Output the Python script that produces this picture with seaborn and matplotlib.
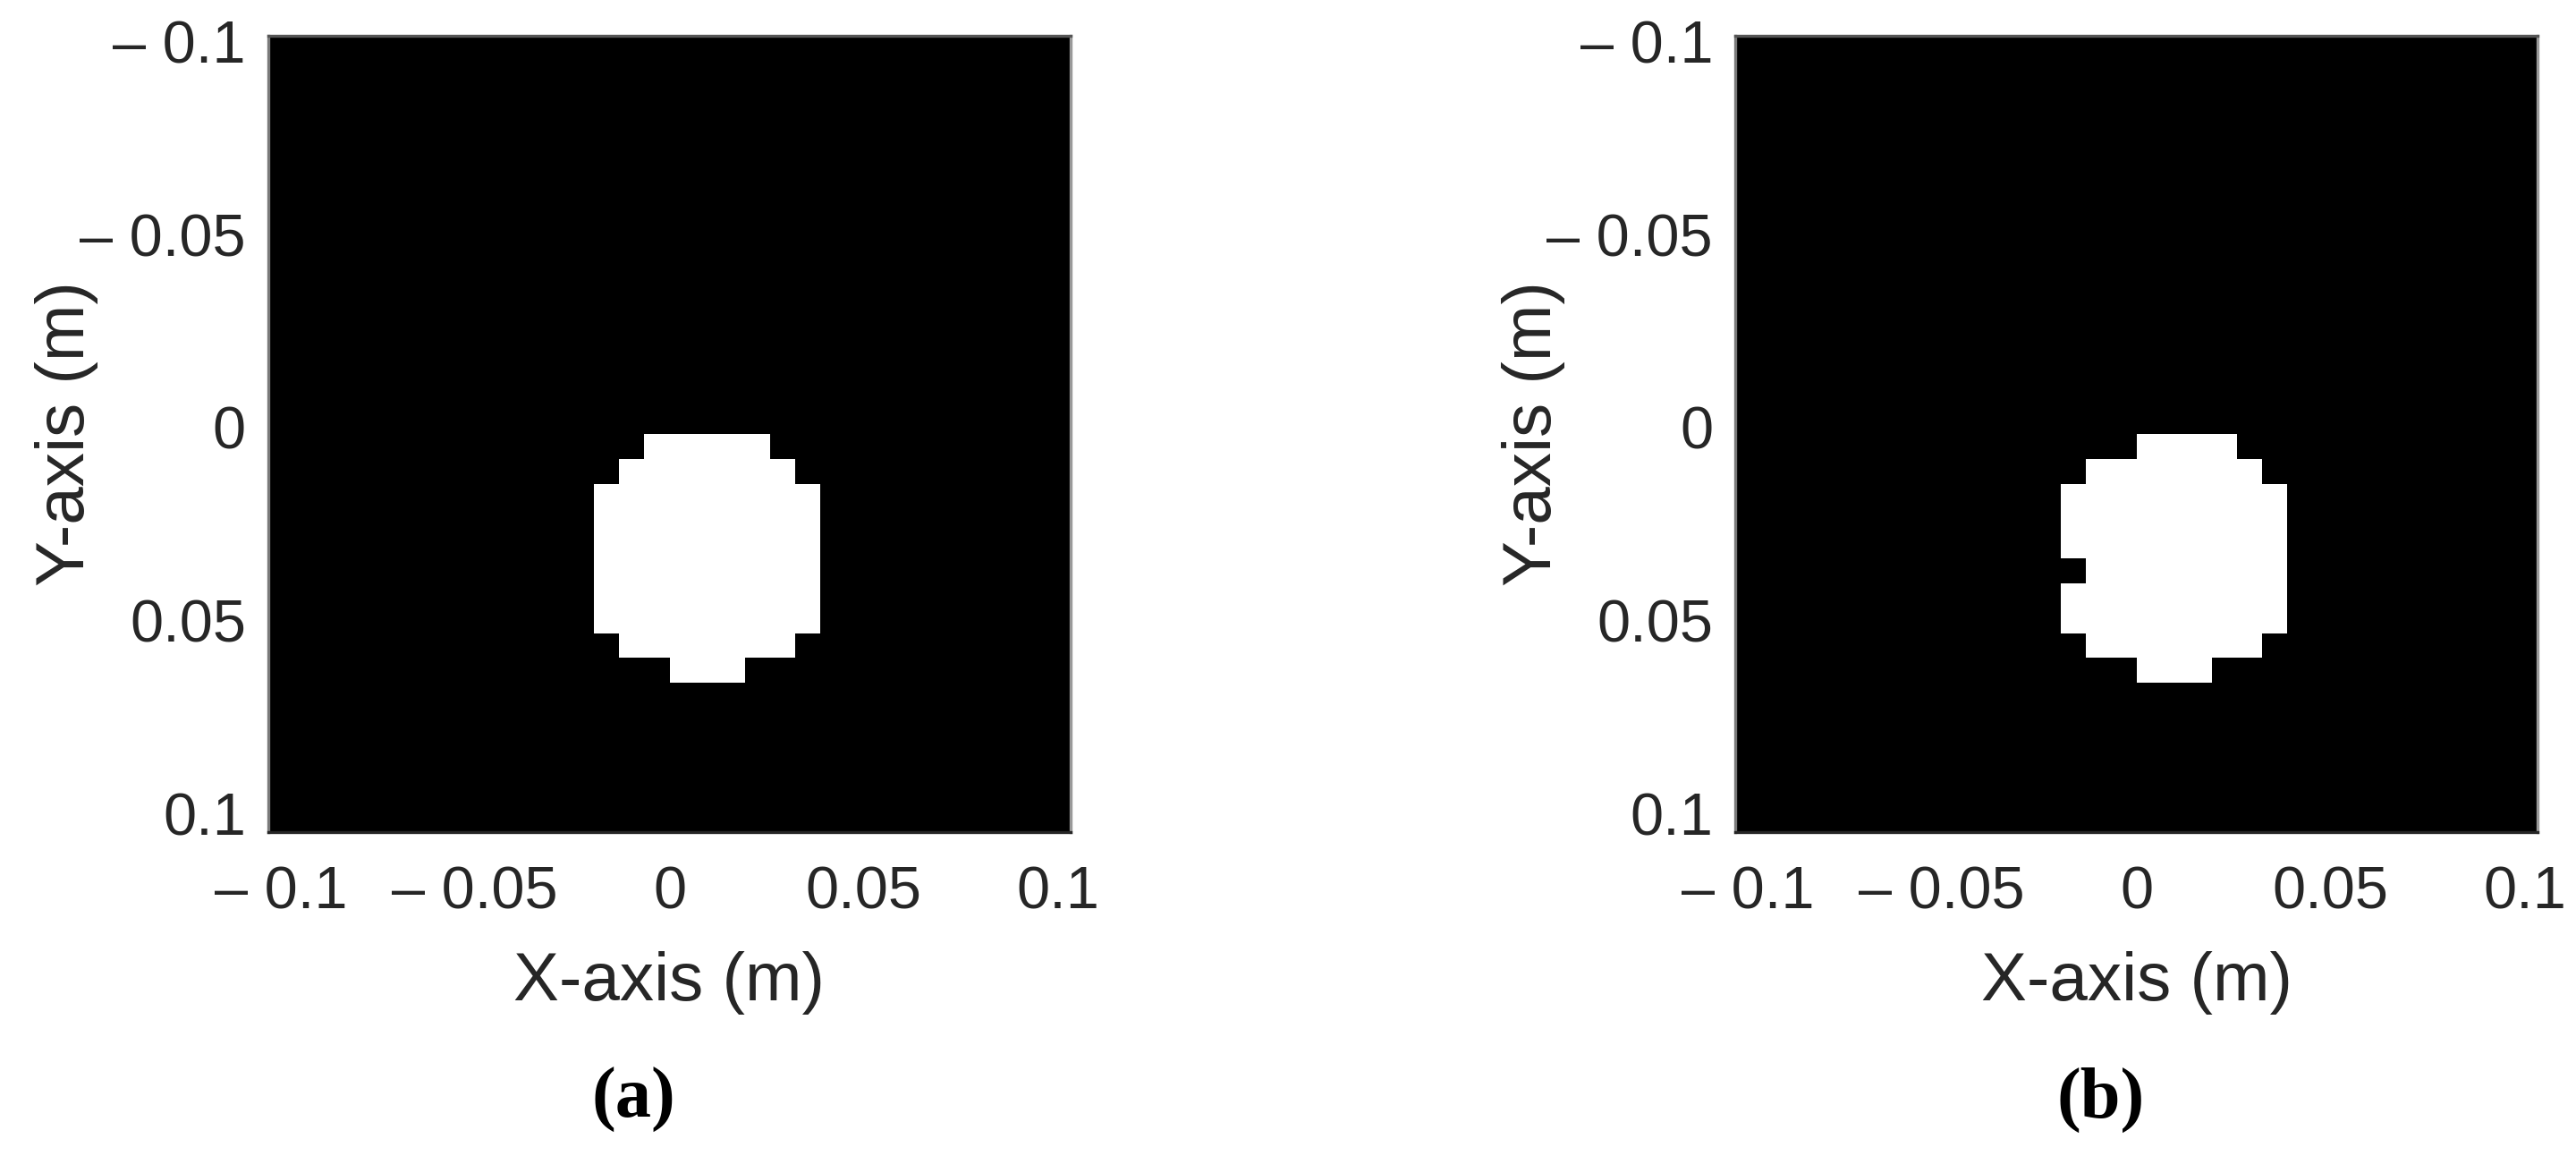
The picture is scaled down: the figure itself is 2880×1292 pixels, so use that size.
import numpy as np
import matplotlib
matplotlib.use("Agg")
import matplotlib.pyplot as plt
from matplotlib.colors import ListedColormap
import seaborn as sns

# ---------------- data ----------------
n_pixels = 32                      # image is 32 x 32 pixels
axis_min, axis_max = -0.1, 0.1     # pixel-centre coordinates (m)
tick_values = [-0.1, -0.05, 0.0, 0.05, 0.1]
x_tick_labels = ["\u2013 0.1", "\u2013 0.05", "0", "0.05", "0.1"]
y_tick_labels = ["\u2013 0.1", "\u2013 0.05", "0", "0.05", "0.1"]

# white region of image (a): row index, first column, last column
rows_a = [16, 17, 18, 19, 20, 21, 22, 23, 24, 25]
col_first_a = [15, 14, 13, 13, 13, 13, 13, 13, 14, 16]
col_last_a = [19, 20, 21, 21, 21, 21, 21, 21, 20, 18]

# white region of image (b)
rows_b = [16, 17, 18, 19, 20, 21, 22, 23, 24, 25]
col_first_b = [16, 14, 13, 13, 13, 14, 13, 13, 14, 16]
col_last_b = [19, 20, 21, 21, 21, 21, 21, 21, 20, 18]

panel_titles = ["(a)", "(b)"]
x_label = "X-axis (m)"
y_label = "Y-axis (m)"


def build_image(rows, firsts, lasts):
    img = np.zeros((n_pixels, n_pixels))
    for r, c0, c1 in zip(rows, firsts, lasts):
        img[r, c0:c1 + 1] = 1.0
    return img


images = [build_image(rows_a, col_first_a, col_last_a),
          build_image(rows_b, col_first_b, col_last_b)]

# ---------------- style ----------------
sns.set_style("white")
plt.rcParams["font.family"] = ["Liberation Sans", "DejaVu Sans"]

W, H = 2880, 1292
fig = plt.figure(figsize=(W / 100, H / 100), dpi=100)

step = (axis_max - axis_min) / (n_pixels - 1)
tick_pos = [(v - axis_min) / step + 0.5 for v in tick_values]

ax_left_px = [300, 1940]
ax_w_px, ax_top_px, ax_bot_px = 897, 40, 930
text_col = "#262626"

cmap = ListedColormap(["#000000", "#ffffff"])

for k, img in enumerate(images):
    ax = fig.add_axes([ax_left_px[k] / W, 1 - ax_bot_px / H,
                       ax_w_px / W, (ax_bot_px - ax_top_px) / H])
    sns.heatmap(img, ax=ax, cmap=cmap, vmin=0, vmax=1, cbar=False,
                linewidths=0, xticklabels=False, yticklabels=False)
    ax.set_xlim(0, n_pixels)
    ax.set_ylim(n_pixels, 0)
    ax.set_xticks(tick_pos)
    ax.set_xticklabels(x_tick_labels, rotation=0)
    ax.set_yticks(tick_pos)
    ax.set_yticklabels(y_tick_labels, rotation=0, va="center")
    ax.tick_params(axis="both", which="major", direction="in", length=8,
                   width=2.5, color="#1e1e1e", labelsize=48,
                   labelcolor=text_col, top=True, right=True,
                   bottom=True, left=True)
    ax.tick_params(axis="x", pad=27)
    ax.tick_params(axis="y", pad=18)
    for name, col in zip(["top", "right", "left", "bottom"],
                         ["#555555", "#9a9a9a", "#7a7a7a", "#262626"]):
        ax.spines[name].set_visible(True)
        ax.spines[name].set_color(col)
        ax.spines[name].set_linewidth(2.4)

    ax.set_xlabel(x_label, fontsize=55, color=text_col)
    ax.set_ylabel(y_label, fontsize=55, color=text_col)
    ax.xaxis.set_label_coords(0.5, -0.150)
    ax.yaxis.set_label_coords(-0.212, 0.5)

    cx = (ax_left_px[k] + ax_w_px / 2 - 40) / W
    fig.text(cx, 1 - 1229 / H, panel_titles[k], ha="center", va="center",
             fontsize=58, fontweight="bold", color="#000000",
             family=["Liberation Serif", "DejaVu Serif"])

fig.savefig("out.png", dpi=100, facecolor="white")
